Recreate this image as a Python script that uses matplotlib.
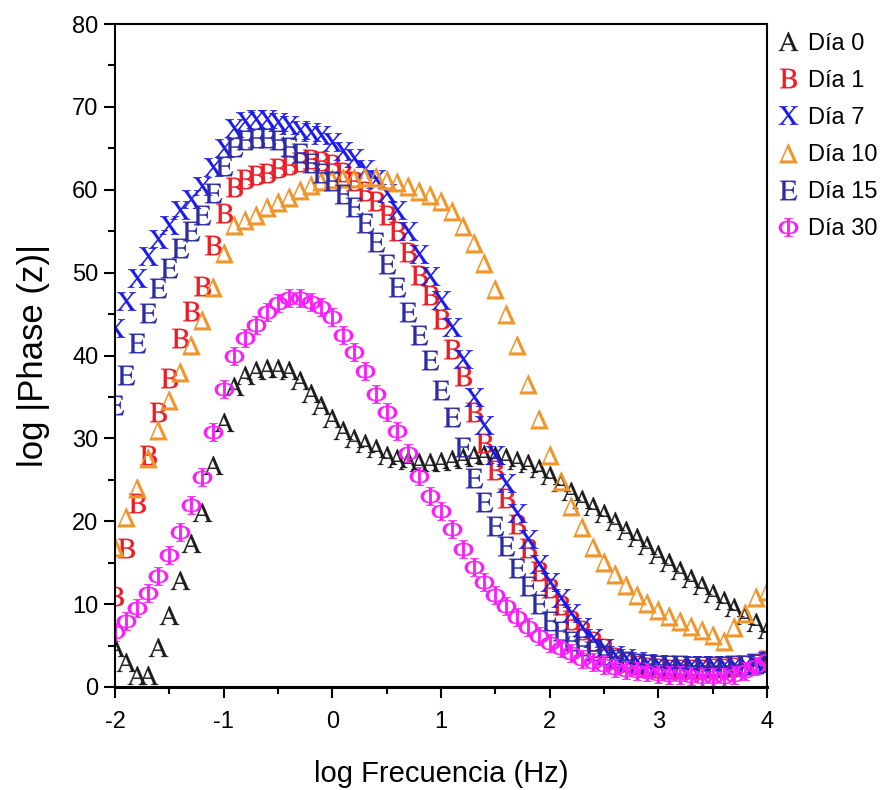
import matplotlib
matplotlib.use("Agg")
import matplotlib.pyplot as plt
from matplotlib.ticker import MultipleLocator

plt.rcParams['mathtext.fontset'] = 'stix'
plt.rcParams['axes.unicode_minus'] = False

# log frequency (Hz), 10 points per decade
log_freq = [-2.0, -1.9, -1.8, -1.7, -1.6, -1.5, -1.4, -1.3, -1.2, -1.1,
            -1.0, -0.9, -0.8, -0.7, -0.6, -0.5, -0.4, -0.3, -0.2, -0.1,
            0.0, 0.1, 0.2, 0.3, 0.4, 0.5, 0.6, 0.7, 0.8, 0.9,
            1.0, 1.1, 1.2, 1.3, 1.4, 1.5, 1.6, 1.7, 1.8, 1.9,
            2.0, 2.1, 2.2, 2.3, 2.4, 2.5, 2.6, 2.7, 2.8, 2.9,
            3.0, 3.1, 3.2, 3.3, 3.4, 3.5, 3.6, 3.7, 3.8, 3.9,
            4.0]

dia_0 = [4.8, 3.0, 1.5, 1.5, 4.8, 8.7, 12.9, 17.4, 21.1, 26.8,
         32.0, 36.3, 37.6, 38.2, 38.5, 38.5, 38.2, 37.0, 35.5, 34.0,
         32.5, 31.0, 30.0, 29.4, 28.8, 28.0, 27.6, 27.4, 27.2, 27.2,
         27.3, 27.5, 27.7, 28.0, 28.1, 28.0, 27.8, 27.4, 27.0, 26.4,
         25.6, 24.7, 23.7, 22.7, 21.8, 21.0, 20.0, 19.0, 18.1, 17.1,
         16.1, 15.1, 14.1, 13.2, 12.3, 11.4, 10.5, 9.6, 8.7, 7.9,
         7.0]

dia_1 = [11.0, 16.8, 22.2, 28.0, 33.2, 37.3, 42.1, 45.4, 48.4, 53.3,
         57.2, 60.3, 61.3, 61.8, 62.0, 62.6, 63.0, 63.3, 63.7, 63.5,
         63.1, 62.2, 61.0, 59.8, 58.6, 57.0, 55.0, 52.5, 49.7, 47.3,
         44.4, 40.8, 37.5, 33.2, 29.4, 26.2, 22.8, 19.7, 16.8, 14.0,
         11.9, 9.9, 8.1, 6.9, 5.6, 4.7, 3.6, 3.0, 2.6, 2.4,
         2.3, 2.2, 2.2, 2.2, 2.2, 2.3, 2.3, 2.4, 2.6, 2.9,
         3.2]

dia_7 = [43.3, 46.6, 49.4, 52.0, 54.0, 55.8, 57.6, 58.9, 60.4, 62.7,
         65.0, 67.5, 68.3, 68.5, 68.5, 68.2, 67.8, 67.2, 67.0, 66.6,
         65.8, 64.7, 63.8, 62.5, 61.3, 59.6, 57.5, 55.0, 52.3, 49.6,
         46.7, 43.4, 39.6, 35.0, 31.6, 28.0, 24.6, 21.0, 17.9, 14.9,
         12.7, 10.7, 8.9, 7.2, 5.9, 4.7, 3.9, 3.5, 3.1, 2.9,
         2.8, 2.7, 2.7, 2.6, 2.6, 2.6, 2.6, 2.6, 2.7, 2.9,
         3.1]

dia_10 = [16.9, 20.5, 24.0, 27.6, 31.0, 34.6, 38.0, 41.3, 44.3, 48.3,
          52.4, 55.7, 56.3, 57.0, 57.9, 58.5, 59.1, 60.0, 60.6, 61.1,
          61.3, 61.4, 61.4, 61.5, 61.5, 61.2, 60.9, 60.5, 59.9, 59.4,
          58.6, 57.4, 55.6, 53.6, 51.2, 48.0, 45.0, 41.3, 36.6, 32.3,
          28.0, 24.8, 21.8, 19.3, 16.9, 15.1, 13.6, 12.3, 11.1, 10.1,
          9.3, 8.6, 8.0, 7.4, 6.9, 6.3, 5.6, 7.2, 8.9, 10.9,
          11.6]

dia_15 = [34.0, 37.7, 41.5, 45.1, 48.2, 50.6, 53.0, 55.0, 57.0, 59.6,
          62.9, 65.2, 66.0, 66.2, 66.2, 66.0, 65.2, 64.4, 63.2, 62.0,
          61.0, 59.5, 57.9, 56.0, 53.7, 51.1, 48.3, 45.3, 42.5, 39.5,
          35.8, 32.6, 28.9, 25.2, 22.3, 19.4, 17.0, 14.3, 12.2, 10.0,
          8.0, 6.7, 5.6, 4.9, 4.3, 3.8, 3.4, 3.1, 2.9, 2.8,
          2.7, 2.6, 2.6, 2.5, 2.5, 2.5, 2.5, 2.6, 2.7, 2.8,
          3.0]

dia_30 = [6.6, 8.0, 9.5, 11.3, 13.4, 15.9, 18.7, 22.0, 25.3, 30.8,
          36.0, 40.0, 42.1, 43.7, 45.2, 46.3, 46.9, 46.9, 46.5, 45.8,
          44.6, 42.5, 40.4, 38.1, 35.4, 33.2, 30.9, 28.2, 25.5, 23.1,
          21.2, 19.1, 16.6, 14.5, 12.7, 11.1, 9.8, 8.4, 7.2, 6.1,
          5.3, 4.7, 4.1, 3.4, 3.0, 2.6, 2.3, 2.1, 1.9, 1.8,
          1.6, 1.5, 1.4, 1.3, 1.2, 1.2, 1.2, 1.4, 1.9, 2.5,
          3.2]

labels = ["Día 0", "Día 1", "Día 7", "Día 10", "Día 15", "Día 30"]
series = [dia_0, dia_1, dia_7, dia_10, dia_15, dia_30]
markers = [r"$\mathrm{A}$", r"$\mathrm{B}$", r"$\mathrm{X}$",
           r"$\Delta$", r"$\mathrm{E}$", r"$\Phi$"]
colors = ["#1a1a1a", "#ee1c25", "#1a1aee", "#f0952a", "#2b2ba6", "#fb1cfb"]

sans = ["Liberation Sans", "DejaVu Sans"]

fig = plt.figure(figsize=(8.96, 7.9), dpi=100)
ax = fig.add_axes([0.1283, 0.1304, 0.7277, 0.8392])

for vals, m, c, lab in zip(series, markers, colors, labels):
    ax.plot(log_freq, vals, linestyle="none", marker=m, markersize=14,
            color=c, markeredgecolor=c, markeredgewidth=0.2, label=lab)

ax.set_xlim(-2, 4)
ax.set_ylim(0, 80)
ax.xaxis.set_major_locator(MultipleLocator(1))
ax.xaxis.set_minor_locator(MultipleLocator(0.5))
ax.yaxis.set_major_locator(MultipleLocator(10))
ax.yaxis.set_minor_locator(MultipleLocator(5))
ax.tick_params(which="major", direction="out", length=8, width=1.5)
ax.tick_params(which="minor", direction="out", length=5, width=1.5)
ax.tick_params(axis="x", pad=9)
ax.tick_params(axis="y", pad=4)
ax.tick_params(top=False, right=False)
for s in ax.spines.values():
    s.set_linewidth(1.5)
ax.spines["bottom"].set_linewidth(2.2)

for t in ax.get_xticklabels() + ax.get_yticklabels():
    t.set_family(sans)
    t.set_fontsize(17)

ax.set_xlabel("log Frecuencia (Hz)", family=sans, fontsize=21, labelpad=20)
ax.set_ylabel("log |Phase (z)|", family=sans, fontsize=25, labelpad=16)

ax.legend(loc="upper left", bbox_to_anchor=(1.0, 1.005), frameon=False,
          handlelength=0.8, handletextpad=0.45, labelspacing=0.64,
          borderaxespad=0.1, prop={"family": sans, "size": 17})

fig.savefig("out.png", dpi=100)
